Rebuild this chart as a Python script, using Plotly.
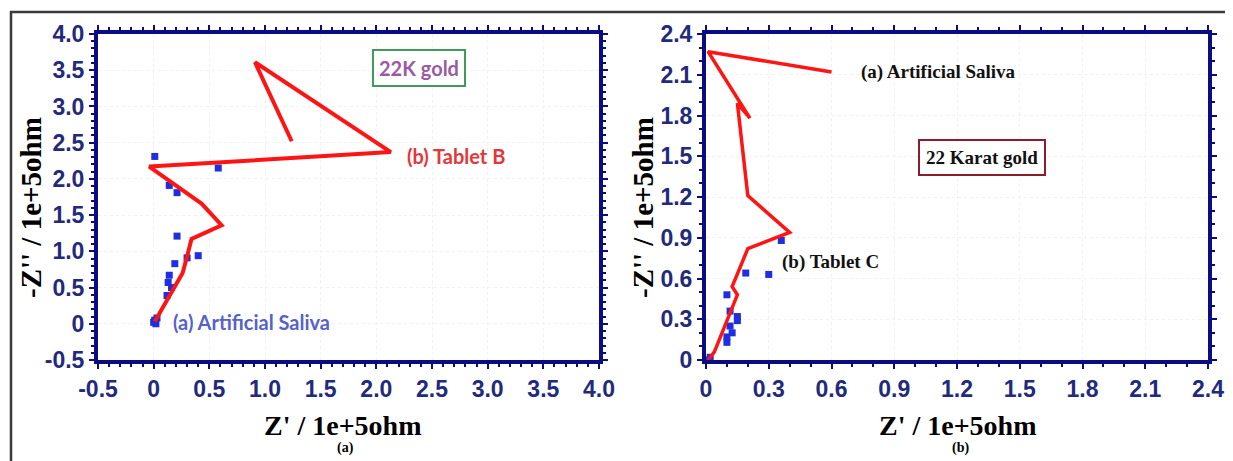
import plotly.graph_objects as go

# ---------------- data ----------------
# Panel (a): 22K gold
a_saliva_x = [0.01, 0.58, 0.14, 0.21, 0.21, 0.30, 0.40, 0.19, 0.14, 0.13, 0.16, 0.12,
              0.03, 0.01, 0.00, 0.02, 0.01]
a_saliva_y = [2.31, 2.15, 1.91, 1.81, 1.21, 0.91, 0.94, 0.83, 0.67, 0.57, 0.50, 0.39,
              0.08, 0.05, 0.02, 0.00, 0.03]
a_tabB_x = [0.01, 0.26, 0.30, 0.34, 0.61, 0.43, -0.04, 2.13, 0.91, 1.24]
a_tabB_y = [0.03, 0.70, 0.93, 1.17, 1.36, 1.66, 2.17, 2.37, 3.61, 2.52]

# Panel (b): 22 Karat gold
b_tabC_x = [0.36, 0.19, 0.30, 0.10, 0.115, 0.15, 0.15, 0.115, 0.125, 0.10, 0.10, 0.01, 0.02]
b_tabC_y = [0.88, 0.64, 0.63, 0.48, 0.36, 0.32, 0.29, 0.25, 0.20, 0.17, 0.13, 0.00, 0.02]
b_saliva_x = [0.01, 0.04, 0.15, 0.125, 0.20, 0.40, 0.20, 0.15, 0.21, 0.01, 0.60]
b_saliva_y = [0.00, 0.06, 0.48, 0.54, 0.82, 0.94, 1.21, 1.89, 1.78, 2.27, 2.12]

a_ticks = [-0.5, 0, 0.5, 1.0, 1.5, 2.0, 2.5, 3.0, 3.5, 4.0]
a_ticklabels = ["-0.5", "0", "0.5", "1.0", "1.5", "2.0", "2.5", "3.0", "3.5", "4.0"]
b_ticks = [0, 0.3, 0.6, 0.9, 1.2, 1.5, 1.8, 2.1, 2.4]
b_ticklabels = ["0", "0.3", "0.6", "0.9", "1.2", "1.5", "1.8", "2.1", "2.4"]

# ---------------- figure ----------------
OFF = 8                      # default page body margin
W, H = 1233 - OFF, 461 - OFF

def px(x):
    return (x - OFF) / W

def py(y):
    return 1 - (y - OFF) / H

NAVY = "#0c0c82"
TICKCOL = "#232a7c"
RED = "#ff1414"
BLUE = "#1f2fe0"

fig = go.Figure()

fig.add_trace(go.Scatter(x=a_saliva_x, y=a_saliva_y, mode="markers",
                         marker=dict(symbol="square", size=7, color=BLUE),
                         xaxis="x", yaxis="y", showlegend=False))
fig.add_trace(go.Scatter(x=a_tabB_x, y=a_tabB_y, mode="lines",
                         line=dict(color=RED, width=4),
                         xaxis="x", yaxis="y", showlegend=False))
fig.add_trace(go.Scatter(x=b_tabC_x, y=b_tabC_y, mode="markers",
                         marker=dict(symbol="square", size=7, color=BLUE),
                         xaxis="x2", yaxis="y2", showlegend=False))
fig.add_trace(go.Scatter(x=b_saliva_x, y=b_saliva_y, mode="lines",
                         line=dict(color=RED, width=3.5),
                         xaxis="x2", yaxis="y2", showlegend=False))

tickfont = dict(family="Liberation Sans, Arial, sans-serif", weight="bold",
                size=23, color=TICKCOL)

def axis(dom, rng, tv, tt, minor_dt, anchor):
    return dict(domain=dom, range=rng, tickvals=tv, ticktext=tt, automargin=False,
                showline=True, linewidth=4, linecolor=NAVY, mirror="allticks",
                ticks="outside", ticklen=5, tickwidth=2, tickcolor=NAVY,
                minor=dict(dtick=minor_dt, ticks="outside", ticklen=3, tickwidth=1.5,
                           tickcolor=NAVY, showgrid=False),
                showgrid=True, gridcolor="#f1f1f1", griddash="dot", gridwidth=1,
                zeroline=False, tickfont=tickfont, anchor=anchor)

ydom = [py(360), py(34)]
fig.update_layout(
    width=W, height=H,
    margin=dict(l=0, r=0, t=0, b=0, autoexpand=False),
    paper_bgcolor="white", plot_bgcolor="white",
    xaxis=axis([px(98), px(599)], [-0.5, 4.0], a_ticks, a_ticklabels, 0.1, "y"),
    yaxis=axis(ydom, [-0.5, 4.0], a_ticks, a_ticklabels, 0.1, "x"),
    xaxis2=axis([px(706), px(1208)], [0, 2.4], b_ticks, b_ticklabels, 0.1, "y2"),
    yaxis2=axis(ydom, [0, 2.4], b_ticks, b_ticklabels, 0.1, "x2"),
)

TIMES = "Liberation Serif, Times New Roman, serif"
LATO = "Lato, Open Sans, sans-serif"

ann = []
# axis titles
for cx in (343, 958):
    ann.append(dict(x=px(cx), y=py(425), xref="paper", yref="paper",
                    xanchor="center", yanchor="middle",
                    text="<b>Z' / 1e+5ohm</b>", showarrow=False,
                    font=dict(family=TIMES, size=28, color="black")))
ann.append(dict(x=px(345), y=py(448), xref="paper", yref="paper", text="<b>(a)</b>",
                xanchor="center", yanchor="middle",
                showarrow=False, font=dict(family=TIMES, size=14, color="black")))
ann.append(dict(x=px(960), y=py(448), xref="paper", yref="paper", text="<b>(b)</b>",
                xanchor="center", yanchor="middle",
                showarrow=False, font=dict(family=TIMES, size=14, color="black")))
for cx in (31, 643):
    ann.append(dict(x=px(cx), y=py(208), xref="paper", yref="paper",
                    xanchor="center", yanchor="middle",
                    text="<b>-Z'' / 1e+5ohm</b>", showarrow=False, textangle=-90,
                    font=dict(family=TIMES, size=29, color="black")))

# panel (a) labels
ann.append(dict(x=2.38, y=3.53, xref="x", yref="y", text="<b>22K gold</b>", showarrow=False,
                font=dict(family=LATO, size=20, color="#9a5aa6"),
                bordercolor="#3f9a5c", borderwidth=2, borderpad=5, bgcolor="white"))
ann.append(dict(x=2.26, y=2.32, xref="x", yref="y", text="<b>(b) Tablet B</b>", showarrow=False,
                xanchor="left", font=dict(family=LATO, size=20, color="#e3373a")))
ann.append(dict(x=0.16, y=0.03, xref="x", yref="y", text="<b>(a) Artificial Saliva</b>",
                showarrow=False, xanchor="left",
                font=dict(family=LATO, size=20, color="#5661c9")))

# panel (b) labels
ann.append(dict(x=0.73, y=2.12, xref="x2", yref="y2", text="<b>(a) Artificial Saliva</b>",
                showarrow=False, xanchor="left",
                font=dict(family=TIMES, size=19, color="#111111")))
ann.append(dict(x=1.32, y=1.49, xref="x2", yref="y2", text="<b>22 Karat gold</b>",
                showarrow=False, font=dict(family=TIMES, size=19, color="#111111"),
                bordercolor="#8b1c2c", borderwidth=2, borderpad=6, bgcolor="white"))
ann.append(dict(x=0.355, y=0.72, xref="x2", yref="y2", text="<b>(b) Tablet C</b>",
                showarrow=False, xanchor="left",
                font=dict(family=TIMES, size=19, color="#111111")))
fig.update_layout(annotations=ann)

# outer frame of the composite figure
fig.add_shape(type="rect", xref="paper", yref="paper",
              x0=px(11), x1=1.02, y0=-0.02, y1=py(12),
              line=dict(color="#3a3a3a", width=2.5), layer="below")

fig.write_html("out.html")
